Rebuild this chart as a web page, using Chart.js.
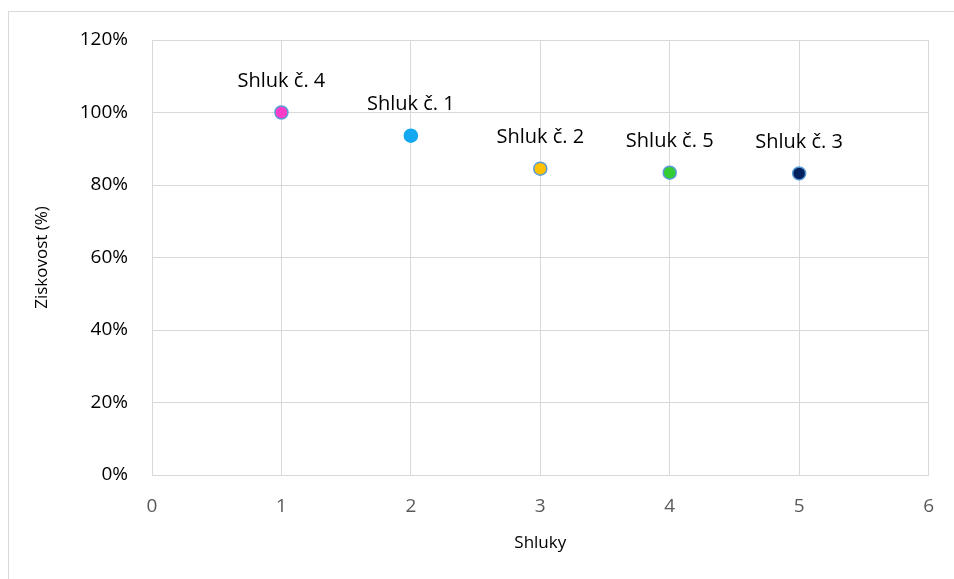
<!DOCTYPE html>
<html>
<head>
<meta charset="utf-8">
<script src="https://cdn.jsdelivr.net/npm/chart.js@4/dist/chart.umd.min.js"></script>
<style>
    html, body { margin: 0; padding: 0; background: #fff; }
    #wrap { position: relative; width: 954px; height: 579px; }
    #frame { position: absolute; left: 8px; top: 11px; right: -2px; bottom: -2px; border-top: 1px solid #d9d9d9; border-left: 1px solid #d9d9d9; }
    canvas { position: absolute; left: 0; top: 0; }
</style>
</head>
<body>
<div id="wrap">
    <div id="frame"></div>
    <canvas id="chart" width="954" height="579"></canvas>
</div>
<script>
// ============ Ziskovost shluků ============

const clusterNames = ['Shluk č. 4', 'Shluk č. 1', 'Shluk č. 2', 'Shluk č. 5', 'Shluk č. 3'];
const clusterX = [1, 2, 3, 4, 5];
const profitability = [100, 93.6, 84.5, 83.4, 83.2];
const pointColors = ['#ff3cc8', '#13a8f0', '#ffc000', '#33cc33', '#002060'];
const pointBorders = ['#5b9bd5', '#13a8f0', '#5b9bd5', '#5b9bd5', '#5b9bd5'];

const FONT = '"Open Sans", "Noto Sans", sans-serif';
const GRID = '#d9d9d9';

// labels above each point
const pointLabels = {
    id: 'pointLabels',
    afterDatasetsDraw(chart) {
        const ctx = chart.ctx;
        const meta = chart.getDatasetMeta(0);
        ctx.save();
        ctx.font = '20px ' + FONT;
        ctx.fillStyle = '#000';
        ctx.textAlign = 'center';
        ctx.textBaseline = 'middle';
        meta.data.forEach((pt, i) => {
            ctx.fillText(clusterNames[i], pt.x, pt.y - 31);
        });
        ctx.restore();
    }
};

new Chart(document.getElementById('chart'), {
    type: 'scatter',
    data: {
        datasets: [{
            data: clusterX.map((x, i) => ({ x, y: profitability[i] })),
            backgroundColor: pointColors,
            borderColor: pointBorders,
            borderWidth: 1.5,
            pointRadius: 6.5,
            pointHoverRadius: 6.5,
        }]
    },
    options: {
        responsive: false,
        animation: false,
        layout: { padding: { left: 28, right: 21, top: 40, bottom: 22 } },
        plugins: { legend: { display: false }, tooltip: { enabled: false } },
        scales: {
            x: {
                min: 0, max: 6,
                ticks: { stepSize: 1, color: '#595959', font: { family: FONT, size: 19 }, padding: 20 },
                grid: { color: GRID, drawTicks: false },
                border: { color: GRID },
                title: { display: true, text: 'Shluky', color: '#000', font: { family: FONT, size: 17 }, padding: 4 },
                afterFit: (s) => { s.height = 579 - 475 - 22; }
            },
            y: {
                min: 0, max: 120,
                ticks: { stepSize: 20, color: '#000', font: { family: FONT, size: 19 }, padding: 24, callback: (v) => v + '%' },
                grid: { color: GRID, drawTicks: false },
                border: { color: GRID },
                title: { display: true, text: 'Ziskovost (%)', color: '#000', font: { family: FONT, size: 17 }, padding: 4 },
                afterFit: (s) => { s.width = 152 - 28; }
            }
        }
    },
    plugins: [pointLabels]
});
</script>
</body>
</html>
